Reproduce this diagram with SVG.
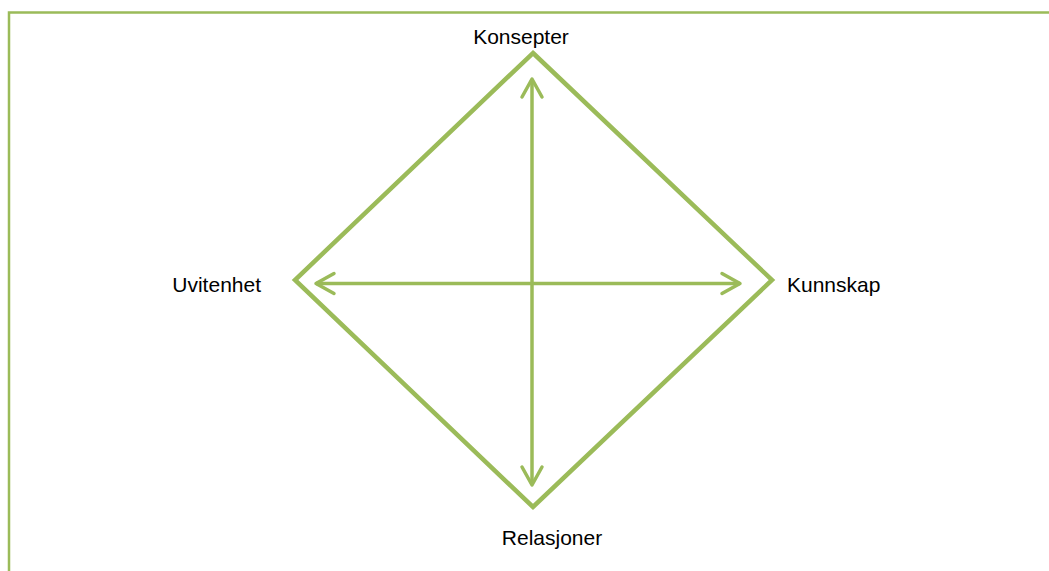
<svg xmlns="http://www.w3.org/2000/svg" width="1049" height="571" viewBox="0 0 1049 571">
<style>
.frame{fill:none;stroke:#9bbb59;stroke-width:2.5}
.diamond{fill:none;stroke:#9bbb59;stroke-width:4.5;stroke-linejoin:miter}
.conn{fill:none;stroke:#9bbb59;stroke-width:3.5}
.head{fill:none;stroke:#9bbb59;stroke-width:3.5;stroke-linecap:round;stroke-linejoin:round}
.lbl{font-family:"Liberation Sans",Arial,sans-serif;font-size:21px;fill:#000}
</style>
<rect width="1049" height="571" fill="#fff"/>
<path class="frame" d="M9,571 V12.5 H1049"/>
<g id="diamond">
<polygon class="diamond" points="533,53 772,280 533,507 295,280"/>
</g>
<g id="connectors">
<line class="conn" x1="532" y1="79" x2="532" y2="485"/>
<polyline class="head" points="522,97 532,79 542,97"/>
<polyline class="head" points="522,467 532,485 542,467"/>
<line class="conn" x1="316" y1="283.5" x2="740" y2="283.5"/>
<polyline class="head" points="334,273.5 316,283.5 334,293.5"/>
<polyline class="head" points="722,273.5 740,283.5 722,293.5"/>
</g>
<g id="node-konsepter"><text class="lbl" x="521" y="44" text-anchor="middle">Konsepter</text></g>
<g id="node-kunnskap"><text class="lbl" x="787" y="292">Kunnskap</text></g>
<g id="node-uvitenhet"><text class="lbl" x="261" y="292" text-anchor="end">Uvitenhet</text></g>
<g id="node-relasjoner"><text class="lbl" x="552" y="545" text-anchor="middle">Relasjoner</text></g>
</svg>
